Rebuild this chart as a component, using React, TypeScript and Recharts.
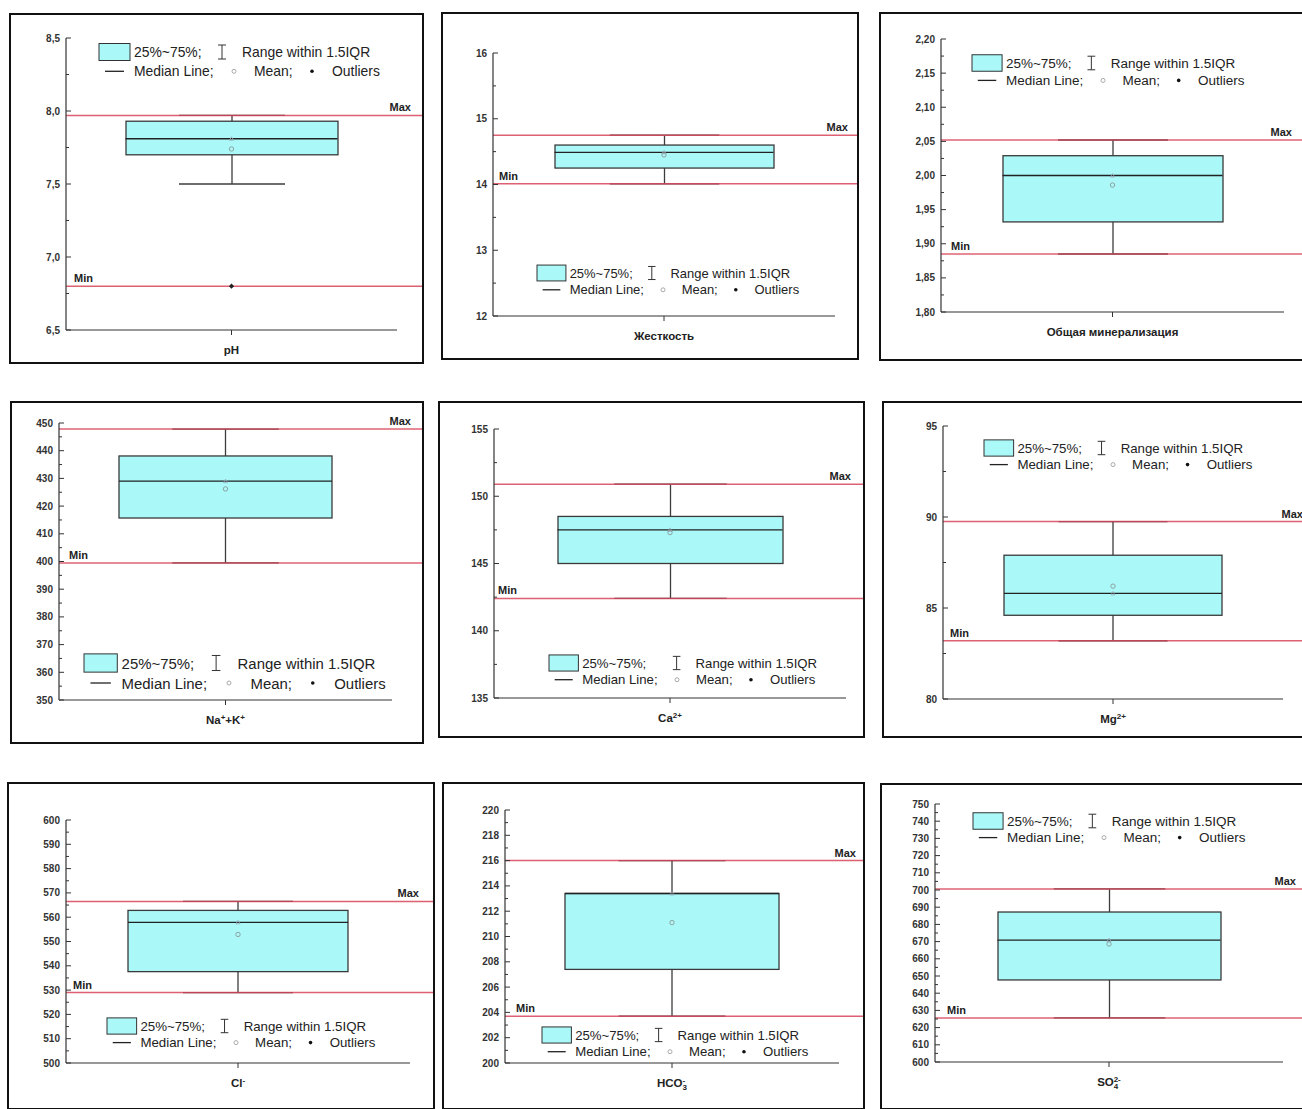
import React from 'react';
import { ComposedChart, Bar, Scatter, XAxis, YAxis, ReferenceLine } from 'recharts';

const FONT = '"Liberation Sans", Arial, Helvetica, sans-serif';
const BOX_FILL = '#aaf8f8';
const RED = '#d8455b';

// one category per panel
const categories = ['pH', 'Жесткость', 'Общая минерализация', 'Na+K', 'Ca2+', 'Mg2+', 'Cl-', 'HCO3-', 'SO4 2-'];

type Part = [string, 'n' | 'sup' | 'sub'];
const categoryLabels: Part[][] = [
  [['pH', 'n']],
  [['Жесткость', 'n']],
  [['Общая минерализация', 'n']],
  [['Na', 'n'], ['+', 'sup'], ['+K', 'n'], ['+', 'sup']],
  [['Ca', 'n'], ['2+', 'sup']],
  [['Mg', 'n'], ['2+', 'sup']],
  [['Cl', 'n'], ['-', 'sup']],
  [['HCO', 'n'], ['3', 'sub'], ['-', 'sup']],
  [['SO', 'n'], ['4', 'sub'], ['2-', 'sup']],
];

const q1Values = [7.70, 14.25, 1.932, 415.7, 145.0, 84.6, 537.6, 207.4, 647.7];
const q3Values = [7.93, 14.60, 2.029, 438.1, 148.5, 87.9, 562.8, 213.4, 687.2];
const medianValues = [7.81, 14.49, 2.0, 429.0, 147.5, 85.8, 557.9, 213.4, 670.9];
const meanValues = [7.74, 14.45, 1.986, 426.2, 147.3, 86.2, 552.9, 211.1, 668.6];
const whiskerLow = [7.50, 14.01, 1.885, 399.5, 142.4, 83.2, 529.0, 203.7, 625.6];
const whiskerHigh = [7.97, 14.75, 2.052, 447.8, 150.9, 89.75, 566.5, 216.0, 700.6];
const maxValues = [7.97, 14.75, 2.052, 447.8, 150.9, 89.75, 566.5, 216.0, 700.6];
const minValues = [6.80, 14.01, 1.885, 399.5, 142.4, 83.2, 529.0, 203.7, 625.6];
const outlierValues: (number | null)[] = [6.80, null, null, null, null, null, null, null, null];

const ticksPH = [6.5, 7.0, 7.5, 8.0, 8.5];
const ticksHardness = [12, 13, 14, 15, 16];
const ticksMineral = [1.8, 1.85, 1.9, 1.95, 2.0, 2.05, 2.1, 2.15, 2.2];
const ticksNaK = [350, 360, 370, 380, 390, 400, 410, 420, 430, 440, 450];
const ticksCa = [135, 140, 145, 150, 155];
const ticksMg = [80, 85, 90, 95];
const ticksCl = [500, 510, 520, 530, 540, 550, 560, 570, 580, 590, 600];
const ticksHCO3 = [200, 202, 204, 206, 208, 210, 212, 214, 216, 218, 220];
const ticksSO4 = [600, 610, 620, 630, 640, 650, 660, 670, 680, 690, 700, 710, 720, 730, 740, 750];
const yTicks = [ticksPH, ticksHardness, ticksMineral, ticksNaK, ticksCa, ticksMg, ticksCl, ticksHCO3, ticksSO4];
const tickDecimals = [1, 0, 2, 0, 0, 0, 0, 0, 0];

// page layout of each panel (pixels)
type Layout = {
  frame: [number, number, number, number];
  axisX: number; xEnd: number; yTop: number; yBot: number;
  minLabelX: number; maxLabelRight: number;
  legend: { x: number; r1: number; r2: number; f: number; shift: number };
};
const layouts: Layout[] = [
  { frame: [9, 13, 415, 351], axisX: 66, xEnd: 397, yTop: 38, yBot: 330, minLabelX: 74, maxLabelRight: 411, legend: { x: 99, r1: 51.7, r2: 71, f: 13.5, shift: 0 } },
  { frame: [441, 12, 418, 348], axisX: 493, xEnd: 835, yTop: 53, yBot: 316, minLabelX: 499, maxLabelRight: 848, legend: { x: 537, r1: 272.5, r2: 289.3, f: 12.6, shift: 0 } },
  { frame: [879, 12, 430, 349], axisX: 941, xEnd: 1284, yTop: 39, yBot: 312, minLabelX: 951, maxLabelRight: 1292, legend: { x: 972, r1: 63.3, r2: 80.7, f: 13.1, shift: 0 } },
  { frame: [10, 401, 414, 343], axisX: 59, xEnd: 392, yTop: 423, yBot: 700, minLabelX: 69, maxLabelRight: 411, legend: { x: 84, r1: 663.3, r2: 683.3, f: 14.5, shift: 0 } },
  { frame: [438, 401, 427, 337], axisX: 494, xEnd: 846, yTop: 429, yBot: 698, minLabelX: 498, maxLabelRight: 851, legend: { x: 549, r1: 663.3, r2: 680, f: 12.8, shift: 11 } },
  { frame: [882, 401, 430, 337], axisX: 943, xEnd: 1283, yTop: 426, yBot: 699, minLabelX: 950, maxLabelRight: 1303, legend: { x: 984, r1: 447.7, r2: 464.3, f: 12.9, shift: 0 } },
  { frame: [7, 782, 428, 328], axisX: 66, xEnd: 410, yTop: 820, yBot: 1063, minLabelX: 73, maxLabelRight: 419, legend: { x: 107, r1: 1025.7, r2: 1042.3, f: 12.9, shift: 0 } },
  { frame: [442, 782, 423, 328], axisX: 505, xEnd: 839, yTop: 810, yBot: 1063, minLabelX: 516, maxLabelRight: 856, legend: { x: 542, r1: 1035, r2: 1051.7, f: 12.8, shift: 0 } },
  { frame: [880, 783, 430, 327], axisX: 935, xEnd: 1283, yTop: 804, yBot: 1062, minLabelX: 947, maxLabelRight: 1296, legend: { x: 973, r1: 820.7, r2: 837.3, f: 13.1, shift: 0 } },
];

const WhiskerShape = (p: any) => {
  const cx = p.x + p.width / 2;
  const top = Math.min(p.y, p.y + p.height);
  const bot = top + Math.abs(p.height);
  const cap = p.width * 0.25;
  return (
    <g stroke="#3c3c3c" strokeWidth={1.3}>
      <line x1={cx} y1={top} x2={cx} y2={bot} />
      <line x1={cx - cap} y1={top} x2={cx + cap} y2={top} />
      <line x1={cx - cap} y1={bot} x2={cx + cap} y2={bot} />
    </g>
  );
};

const BoxShape = (p: any) => {
  const top = Math.min(p.y, p.y + p.height);
  return <rect x={p.x} y={top} width={p.width} height={Math.abs(p.height)} fill={BOX_FILL} stroke="#3a3a3a" strokeWidth={1.3} />;
};

function LegendBox({ i }: { i: number }) {
  const g = layouts[i].legend;
  const s = g.f / 13.5;
  const ox = 2;
  const r1 = 14;
  const r2 = r1 + (g.r2 - g.r1);
  const txt = { fontFamily: FONT, fontSize: g.f * 1.03, fill: '#222', dominantBaseline: 'central' as const };
  const ib = ox + 123 * s + g.shift;
  return (
    <svg style={{ position: 'absolute', left: g.x - ox, top: g.r1 - r1 }} width={340} height={50}>
      <rect x={ox} y={r1 - 8.5 * s} width={31 * s} height={17 * s} fill={BOX_FILL} stroke="#333" strokeWidth={1} />
      <text x={ox + 35 * s} y={r1} {...txt}>25%~75%;</text>
      <g stroke="#333" strokeWidth={1}>
        <line x1={ib} y1={r1 - 7 * s} x2={ib} y2={r1 + 7 * s} />
        <line x1={ib - 4 * s} y1={r1 - 7 * s} x2={ib + 4 * s} y2={r1 - 7 * s} />
        <line x1={ib - 4 * s} y1={r1 + 7 * s} x2={ib + 4 * s} y2={r1 + 7 * s} />
      </g>
      <text x={ox + 143 * s + g.shift} y={r1} {...txt}>Range within 1.5IQR</text>
      <line x1={ox + 6 * s} y1={r2} x2={ox + 25 * s} y2={r2} stroke="#222" strokeWidth={1.3} />
      <text x={ox + 35 * s} y={r2} {...txt}>Median Line;</text>
      <circle cx={ox + 135 * s} cy={r2} r={2} fill="none" stroke="#aaa" strokeWidth={1} />
      <text x={ox + 155 * s} y={r2} {...txt}>Mean;</text>
      <circle cx={ox + 213 * s} cy={r2} r={1.8} fill="#111" />
      <text x={ox + 233 * s} y={r2} {...txt}>Outliers</text>
    </svg>
  );
}

function Panel({ i }: { i: number }) {
  const lay = layouts[i];
  const [fl, ft, fw, fh] = lay.frame;
  const cl = fl + 2;
  const ct = ft + 2;
  const cw = fw - 4;
  const ch = fh - 4;
  const axisLocal = lay.axisX - cl;
  const axisYLocal = lay.yBot - ct;
  const barSize = Math.round((lay.xEnd - lay.axisX) * 0.64);
  const margin = { left: axisLocal - 40, top: lay.yTop - ct, right: cw - (lay.xEnd - cl), bottom: ch - axisYLocal - 30 };
  const ext = margin.right;

  const major = yTicks[i];
  const step = major[1] - major[0];
  const minor = major.slice(0, -1).map((v) => v + step / 2);
  const allTicks = [...major, ...minor].sort((a, b) => a - b);
  const isMajor = (v: number) => major.some((m) => Math.abs(m - v) < step * 1e-3);

  const data = [
    {
      name: categories[i],
      box: [q1Values[i], q3Values[i]],
      whisker: [whiskerLow[i], whiskerHigh[i]],
      median: medianValues[i],
      mean: meanValues[i],
      outlier: outlierValues[i],
    },
  ];

  const YTick = (p: any) => {
    const v = p.payload.value;
    const maj = isMajor(v);
    return (
      <g>
        <line x1={axisLocal} y1={p.y} x2={axisLocal + (maj ? 5 : 3)} y2={p.y} stroke="#333" strokeWidth={1} />
        {maj && (
          <text x={axisLocal - 6} y={p.y} textAnchor="end" dominantBaseline="central" fontFamily={FONT} fontWeight="bold" fontSize={10} fill="#333">
            {v.toFixed(tickDecimals[i]).replace('.', ',')}
          </text>
        )}
      </g>
    );
  };

  const XTick = (p: any) => {
    let cum = 0;
    let prevSub = false;
    const spans = categoryLabels[i].map(([t, k], j) => {
      const target = k === 'sup' ? -4.5 : k === 'sub' ? 3 : 0;
      const dy = target - cum;
      cum = target;
      const dx = k === 'sup' && prevSub ? -4.6 : 0;
      prevSub = k === 'sub';
      return (
        <tspan key={j} dy={dy} dx={dx} fontSize={k === 'n' ? 11.5 : 8}>
          {t}
        </tspan>
      );
    });
    return (
      <text x={p.x} y={axisYLocal + 24} textAnchor="middle" fontFamily={FONT} fontWeight="bold" fill="#222">
        {spans}
      </text>
    );
  };

  const redShape = (label: 'Max' | 'Min') => (p: any) => (
    <g>
      <line x1={p.x1} y1={p.y1} x2={p.x2 + ext} y2={p.y2} stroke={RED} strokeWidth={1.5} strokeOpacity={0.85} />
      <text
        x={label === 'Max' ? lay.maxLabelRight - cl : lay.minLabelX - cl}
        y={p.y1 - 4}
        textAnchor={label === 'Max' ? 'end' : 'start'}
        fontFamily={FONT}
        fontWeight="bold"
        fontSize={11}
        fill="#222"
      >
        {label}
      </text>
    </g>
  );

  const halfBox = barSize / 2;

  return (
    <div style={{ position: 'absolute', left: fl, top: ft, width: fw, height: fh, border: '2px solid #111', boxSizing: 'border-box', background: '#fff' }}>
      <ComposedChart width={cw} height={ch} data={data} margin={margin} barCategoryGap="18%">
        <XAxis
          dataKey="name"
          interval={0}
          tickSize={5}
          tickLine={{ stroke: '#333' }}
          axisLine={{ stroke: '#333', strokeWidth: 1.2 }}
          tick={XTick}
          height={30}
        />
        <XAxis xAxisId="w" dataKey="name" hide />
        <YAxis
          type="number"
          width={40}
          domain={[major[0], major[major.length - 1]]}
          ticks={allTicks}
          interval={0}
          allowDataOverflow
          tickLine={false}
          tickSize={0}
          axisLine={{ stroke: '#333', strokeWidth: 1.2 }}
          tick={YTick}
        />
        <Bar xAxisId="w" dataKey="whisker" barSize={barSize} shape={WhiskerShape} isAnimationActive={false} />
        <Bar dataKey="box" barSize={barSize} shape={BoxShape} isAnimationActive={false} />
        <Scatter
          dataKey="median"
          isAnimationActive={false}
          shape={(p: any) => (
            <g>
              <line x1={p.cx - halfBox} y1={p.cy} x2={p.cx + halfBox} y2={p.cy} stroke="#222" strokeWidth={1.3} />
              <path d={`M${p.cx - 2},${p.cy + 1.5} L${p.cx + 2},${p.cy + 1.5} L${p.cx},${p.cy - 2} Z`} fill="none" stroke="#9ab" strokeWidth={0.8} />
            </g>
          )}
        />
        <Scatter
          dataKey="mean"
          isAnimationActive={false}
          shape={(p: any) => <circle cx={p.cx} cy={p.cy} r={2.2} fill="none" stroke="#8a9a9a" strokeWidth={0.9} />}
        />
        {outlierValues[i] != null && (
          <Scatter
            dataKey="outlier"
            isAnimationActive={false}
            shape={(p: any) => <path d={`M${p.cx},${p.cy - 2.6} L${p.cx + 2.6},${p.cy} L${p.cx},${p.cy + 2.6} L${p.cx - 2.6},${p.cy} Z`} fill="#222" />}
          />
        )}
        <ReferenceLine y={maxValues[i]} shape={redShape('Max')} />
        <ReferenceLine y={minValues[i]} shape={redShape('Min')} />
      </ComposedChart>
    </div>
  );
}

export default function App() {
  return (
    <div style={{ position: 'absolute', left: 0, top: 0, width: 1302, height: 1109, overflow: 'hidden', background: '#fff' }}>
      {categories.map((c, i) => (
        <Panel key={c} i={i} />
      ))}
      {categories.map((c, i) => (
        <LegendBox key={'lg' + c} i={i} />
      ))}
    </div>
  );
}
